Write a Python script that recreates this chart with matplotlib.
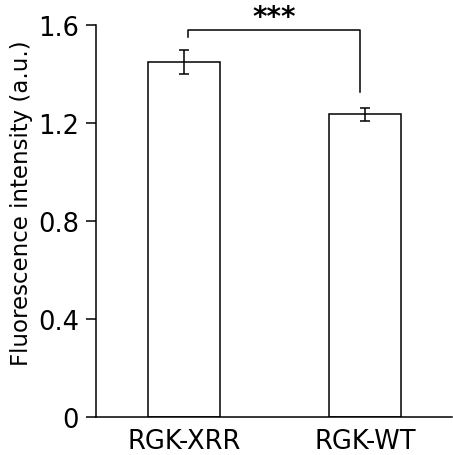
import numpy as np
import matplotlib
matplotlib.use('Agg')
import matplotlib.pyplot as plt

# data
groups = ['RGK-XRR', 'RGK-WT']
means = [1.45, 1.235]
errs = [0.05, 0.027]
yticks = [0, 0.4, 0.8, 1.2, 1.6]
ytick_labels = ['0', '0.4', '0.8', '1.2', '1.6']
sig_label = '***'

plt.rcParams['font.family'] = 'DejaVu Sans'

fig = plt.figure(figsize=(4.53, 4.56), dpi=100)
ax = fig.add_axes([96 / 453, 38 / 456, 356 / 453, 392 / 456])

x = np.arange(len(groups))
ax.bar(x, means, width=0.4, color='white', edgecolor='black', linewidth=1.1, zorder=2)
ax.errorbar(x, means, yerr=errs, fmt='none', ecolor='black', elinewidth=1.1,
            capsize=3.4, capthick=1.1, zorder=3)

# significance bracket
top = max(m + e for m, e in zip(means, errs)) + 0.08
left_bottom = means[0] + errs[0] + 0.053
right_bottom = means[1] + errs[1] + 0.065
ax.plot([x[0] + 0.02, x[0] + 0.02, x[1] - 0.03, x[1] - 0.03],
        [left_bottom, top, top, right_bottom], color='black', linewidth=1.1,
        clip_on=False)
ax.text((x[0] + x[1]) / 2, top + 0.02, sig_label, ha='center', va='baseline',
        fontsize=20, fontweight='bold')

ax.set_xlim(-0.486, 1.48)
ax.set_ylim(0, 1.6)
ax.set_yticks(yticks)
ax.set_yticklabels(ytick_labels)
ax.set_xticks(x)
ax.set_xticklabels(groups)

ax.spines['top'].set_visible(False)
ax.spines['right'].set_visible(False)
for s in ['left', 'bottom']:
    ax.spines[s].set_linewidth(1.1)

ax.tick_params(axis='y', length=7.2, width=1.1, direction='out', labelsize=18.5, pad=5)
ax.tick_params(axis='x', length=0, labelsize=18.5, pad=8)

ax.set_ylabel('Fluorescence intensity (a.u.)', fontsize=16.5)
ax.yaxis.set_label_coords(-0.178, 0.548)

fig.savefig('out.png', dpi=100)
